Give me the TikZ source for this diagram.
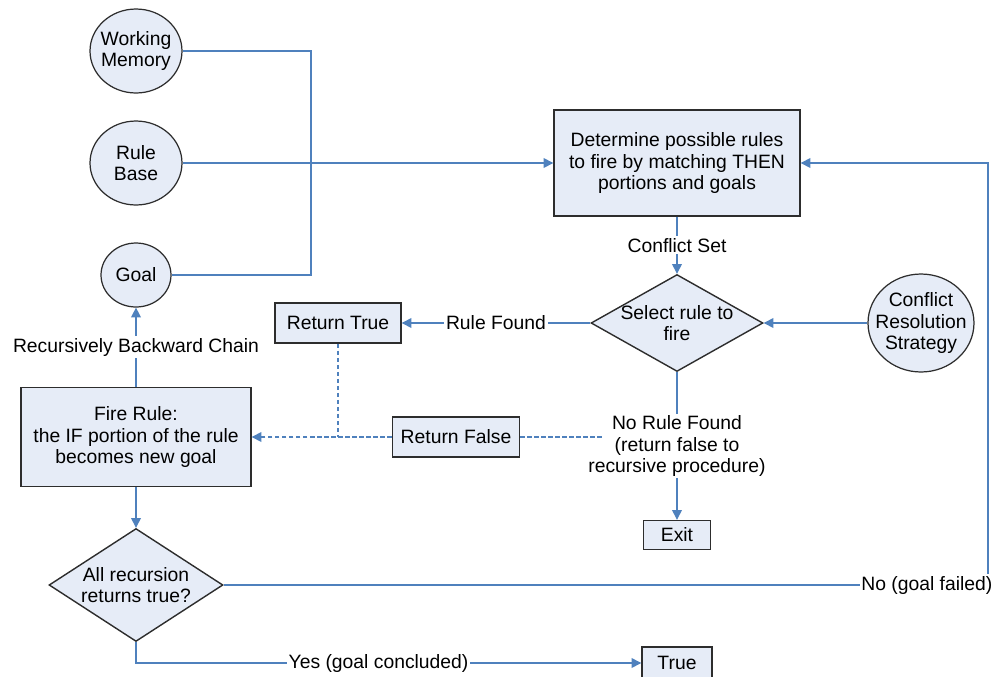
\documentclass[tikz,border=0pt]{standalone}
\usepackage{fontspec}
\setmainfont{Liberation Sans}
\usetikzlibrary{arrows.meta,
shapes.geometric,
calc
}
\definecolor{flowblue}{RGB}{79,129,189}
\definecolor{boxfill}{RGB}{230,236,247}
\definecolor{boxline}{RGB}{45,45,45}
\tikzset{>={Triangle[length=5.5pt,width=5.5pt]}}
\tikzset{
    procbox/.style={rectangle, draw=boxline, fill=boxfill, line width=0.8pt, align=center, inner sep=1pt},
    decide/.style={diamond, draw=boxline, fill=boxfill, line width=0.8pt, align=center, inner sep=-2pt},
    store/.style={ellipse, draw=boxline, fill=boxfill, line width=0.7pt, align=center, inner xsep=-7pt, inner ysep=0pt},
    flow/.style={draw=flowblue, line width=0.75pt},
    back/.style={flow, dash pattern=on 2.5pt off 1.5pt},
    lbl/.style={fill=white, inner sep=1pt, align=center}
}

\begin{document}
\begin{tikzpicture}[x=0.02cm, y=-0.02cm, font=\fontsize{11}{12.3}\selectfont]
    \useasboundingbox (0,0) rectangle (992,677);
    \node[store, minimum width=1.84cm, minimum height=1.68cm] (wm) at (136,51) {Working\\Memory};
    \node[store, minimum width=1.84cm, minimum height=1.68cm] (rb) at (136,163) {Rule\\Base};
    \node[store, minimum width=1.4cm, minimum height=1.28cm] (goal) at (136,275) {Goal};
    \node[procbox, minimum width=4.92cm, minimum height=2.12cm] (det) at (677,163) {Determine possible rules\\to fire by matching THEN\\portions and goals};
    \node[decide, aspect=1.77, minimum width=3.44cm, minimum height=1.94cm] (sel) at (677,323) {Select rule to\\fire};
    \node[store, minimum width=2.12cm, minimum height=1.96cm] (crs) at (921,323) {Conflict\\Resolution\\Strategy};
    \node[procbox, minimum width=2.52cm, minimum height=0.8cm] (rtrue) at (338,323) {Return True};
    \node[procbox, minimum width=2.54cm, minimum height=0.8cm] (rfalse) at (456,437) {Return False};
    \node[procbox, minimum width=4.6cm, minimum height=1.98cm] (fire) at (136,437) {Fire Rule:\\the IF portion of the rule\\becomes new goal};
    \node[decide, aspect=1.54, minimum width=3.48cm, minimum height=2.26cm] (allrec) at (136,585) {All recursion\\returns true?};
    \node[procbox, minimum width=1.34cm, minimum height=0.58cm] (exitb) at (677,535) {Exit};
    \node[procbox, minimum width=1.4cm, minimum height=0.64cm] (truebox) at (677,663) {True};

    \coordinate (bus) at (311,163);
    \coordinate (rim) at (988,585);
    \coordinate (nrf) at (604,437);

    \draw[flow] (wm.east) -| (bus) |- (goal.east);
    \draw[flow, ->] (rb.east) -- (det.west);
    \draw[flow, ->] (det) -- node[lbl] (cset) {Conflict Set} (sel);
    \draw[flow, ->] (crs) -- (sel);
    \draw[flow, ->] (sel) -- node[lbl] (rfound) {Rule Found} (rtrue);
    \draw[flow, ->] (sel) -- node[lbl] (norule) {No Rule Found\\(return false to\\recursive procedure)} (exitb);
    \draw[flow, ->] (fire) -- node[lbl] (rbc) {Recursively Backward Chain} (goal);
    \draw[flow, ->] (fire) -- (allrec);
    \draw[flow, ->] (allrec.south) |- node[lbl, pos=0.74] (yes) {Yes (goal concluded)} (truebox.west);
    \draw[flow, ->] (allrec.east) -- node[lbl, pos=0.92] (nogoal) {No (goal failed)} (rim) |- (det.east);
    \draw[back] (rtrue) -- (rtrue |- rfalse);
    \draw[back, ->] (rfalse) -- (fire);
    \draw[back] (rfalse) -- (nrf);
\end{tikzpicture}
\end{document}
